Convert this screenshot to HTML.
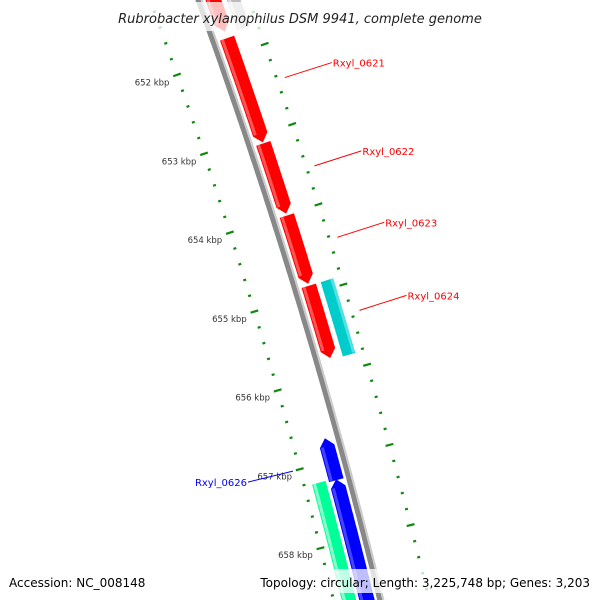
<!DOCTYPE html>
<html><head><meta charset="utf-8"><style>
html,body{margin:0;padding:0;background:#fff;width:600px;height:600px;overflow:hidden;}
svg{display:block;font-family:"DejaVu Sans","Liberation Sans",sans-serif;}
</style></head><body>
<svg id="map" width="600" height="600" viewBox="0 0 600 600" xmlns="http://www.w3.org/2000/svg"></svg>
<script>
// ---- data ----
const geneNames = ["prev_fwd","prev_fwd2","Rxyl_0621","Rxyl_0622","Rxyl_0623","Rxyl_0624","Rxyl_0624b","Rxyl_0625","Rxyl_0626","Rxyl_0627"];
const geneStart = [650.9, 650.9, 651.786, 653.107, 654.013, 654.893, 654.893, 656.717, 657.233, 657.22];
const geneEnd   = [651.70, 651.74, 653.094, 653.987, 654.868, 655.799, 655.824, 657.245, 660.0, 660.0];
const geneStrand= [1, 1, 1, 1, 1, 1, 1, -1, -1, -1];
const geneRing  = [0, 1, 0, 0, 0, 0, 1, 0, 0, 1];
const geneColor = ["#ff0000","#bbbbbb","#ff0000","#ff0000","#ff0000","#ff0000","#00cccc","#0000ff","#0000ff","#00ff99"];
const geneArrow = [1,0,1,1,1,1,0,1,1,0];
const tickLabels = [652,653,654,655,656,657,658];
const geneLabels = ["Rxyl_0621","Rxyl_0622","Rxyl_0623","Rxyl_0624","Rxyl_0626"];
const geneLabelKb = [652.45, 653.55, 654.44, 655.35, 657.0];
const geneLabelSide = [1,1,1,1,-1];
const geneLabelColor = ["#ff0000","#ff0000","#ff0000","#ff0000","#0000ff"];

// ---- geometry ----
const NS="http://www.w3.org/2000/svg";
const svg=document.getElementById('map');
function yb(kb){return 60+79.5*(kb-652);}
function X(y){return 198+0.363*y-0.0001*y*y;}
function P(kb,d){const y=yb(kb);const k=0.363-0.0002*y;const n=Math.sqrt(1+k*k);return [X(y)+d/n, y-d*k/n];}
function mk(tag,attrs,parent){const e=document.createElementNS(NS,tag);for(const a in attrs)e.setAttribute(a,attrs[a]);(parent||svg).appendChild(e);return e;}
function pts(a){return a.map(p=>p[0].toFixed(1)+','+p[1].toFixed(1)).join(' ');}
function lighten(c){const m={"#ff0000":"#ff5555","#0000ff":"#4444ff","#00ff99":"#88ffcc","#00cccc":"#55e0e0","#bbbbbb":"#dddddd"};return m[c]||c;}

// backbone
const bbL=[],bbR=[];
for(let kb=650.5;kb<=660.5;kb+=0.05){bbL.push(P(kb,-2.5));bbR.push(P(kb,2.5));}
let e=mk('polygon',{points:pts(bbL.concat(bbR.slice().reverse())),fill:'#888888'});

const lgL=[],lgR=[];
for(let kb=650.5;kb<=660.5;kb+=0.05){lgL.push(P(kb,2.5));lgR.push(P(kb,4.5));}
e=mk('polygon',{points:pts(lgL.concat(lgR.slice().reverse())),fill:'#cccccc'});


// ticks
for(let i=0;i<=60;i++){
  const kb=650+i*0.2; const major=(i%5===0);
  [-45,48].forEach(d=>{
    const len=major?8:3; const a=P(kb,d-len/2), b=P(kb,d+len/2);
    const t=mk('line',{x1:a[0],y1:a[1],x2:b[0],y2:b[1],stroke:'#118811','stroke-width':2.2});
    
    
  });
}
tickLabels.forEach(kb=>{
  const p=P(kb,-53);
  const t=mk('text',{x:p[0],y:p[1]+8,'text-anchor':'end','font-size':'8.5',fill:'#333'});
  t.textContent=kb+' kbp';
  
  
});

// genes
geneNames.forEach((nm,i)=>{
  const ring=geneRing[i], s=geneStrand[i];
  let d1,d2;
  if(s>0){ if(ring===0){d1=7;d2=22;} else {d1=27;d2=40;} }
  else { if(ring===0){d1=-20;d2=-5;} else {d1=-37;d2=-23;} }
  const a0=geneStart[i], a1=geneEnd[i], ah=0.1;
  const L=[],R=[];
  let s0=a0,s1=a1;
  if(geneArrow[i]){ if(s>0) s1=a1-ah; else s0=a0+ah; }
  for(let kb=s0;kb<=s1+1e-6;kb+=0.02){L.push(P(kb,d1));R.push(P(kb,d2));}
  L.push(P(s1,d1));R.push(P(s1,d2));
  let poly=L.concat(R.slice().reverse());
  if(geneArrow[i]){
    const mid=(d1+d2)/2;
    if(s>0){ poly=L.concat([P(a1,mid)]).concat(R.slice().reverse()); }
    else { poly=L.concat(R.slice().reverse()).concat([P(a0,mid)]); }
  }
  const g=mk('polygon',{points:pts(poly),fill:geneColor[i]});
  
  
  const hd1 = geneColor[i]==="#00cccc"? d2-3 : d1+1, hd2 = hd1+3;
  const HL=[],HR=[];
  for(let kb=s0;kb<=s1+1e-6;kb+=0.02){HL.push(P(kb,hd1));HR.push(P(kb,hd2));}
  const h=mk('polygon',{points:pts(HL.concat(HR.slice().reverse())),fill:lighten(geneColor[i])});
  
  
});

// gene labels
geneLabels.forEach((nm,i)=>{
  const side=geneLabelSide[i];
  let a,b;
  if(side>0){ a=P(geneLabelKb[i],56); b=[a[0]+47,a[1]-15]; }
  else { a=P(geneLabelKb[i],-52); b=[a[0]-45,a[1]+11]; }
  const ln=mk('line',{x1:a[0],y1:a[1],x2:b[0],y2:b[1],stroke:geneLabelColor[i],'stroke-width':1});
  
  
  const t=mk('text',{x:b[0]+side*1,y:b[1]+4,'text-anchor':side>0?'start':'end','font-size':'10',fill:geneLabelColor[i]});
  t.textContent=nm;
  
  
});

// title and footer
e=mk('rect',{x:103,y:2,width:394,height:29,fill:'#fff','fill-opacity':0.75});

e=mk('text',{x:300,y:23,'text-anchor':'middle','font-size':'13','font-style':'italic',fill:'#222'});
e.textContent='Rubrobacter xylanophilus DSM 9941, complete genome';

e=mk('rect',{x:2,y:569,width:128,height:24,fill:'#fff','fill-opacity':0.75});

e=mk('rect',{x:256,y:569,width:342,height:24,fill:'#fff','fill-opacity':0.75});

e=mk('text',{x:9,y:587,'font-size':'12',fill:'#000'});
e.textContent='Accession: NC_008148';

e=mk('text',{x:590,y:587,'text-anchor':'end','font-size':'12',fill:'#000'});
e.textContent='Topology: circular; Length: 3,225,748 bp; Genes: 3,203';

</script>
</body></html>
